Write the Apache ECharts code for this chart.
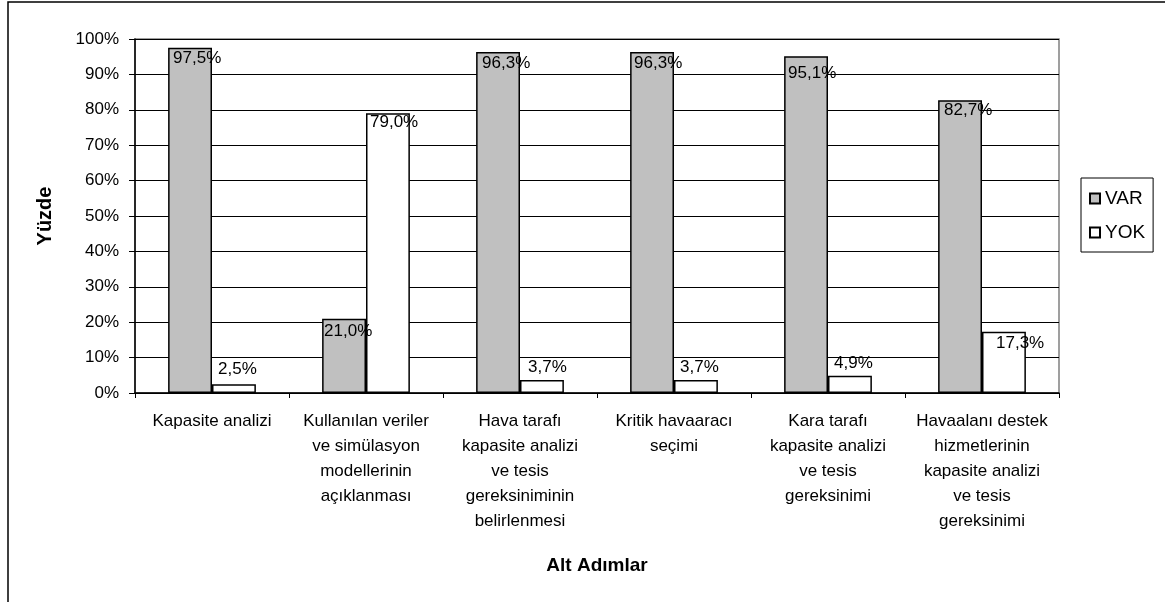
<!DOCTYPE html>
<html>
<head>
<meta charset="utf-8">
<script src="https://cdn.jsdelivr.net/npm/echarts@6/dist/echarts.min.js"></script>
<style>
html,body{margin:0;padding:0;background:#fff;}
#c{width:1165px;height:602px;}
</style>
</head>
<body>
<div id="c"></div>
<script>
const categories = [
  "Kapasite analizi",
  "Kullanılan veriler\nve simülasyon\nmodellerinin\naçıklanması",
  "Hava tarafı\nkapasite analizi\nve tesis\ngereksiniminin\nbelirlenmesi",
  "Kritik havaaracı\nseçimi",
  "Kara tarafı\nkapasite analizi\nve tesis\ngereksinimi",
  "Havaalanı destek\nhizmetlerinin\nkapasite analizi\nve tesis\ngereksinimi"
];
const seriesNames = ["VAR", "YOK"];
const varValues = [97.5, 21.0, 96.3, 96.3, 95.1, 82.7];
const yokValues = [2.5, 79.0, 3.7, 3.7, 4.9, 17.3];
const yTicks = [0, 10, 20, 30, 40, 50, 60, 70, 80, 90, 100];

// label placement offsets relative to each bar's top-left corner
const varLabelPos = [[5, 2], [2, 4], [6, 3], [4, 3], [4, 8], [6, 2]];
const yokLabelPos = [[6, -23], [4, 0], [8, -21], [6, -21], [6, -21], [14, 3]];

const FONT = "'Liberation Sans', Arial, sans-serif";
const fmt = v => v.toFixed(1).replace('.', ',') + '%';

function mkData(vals, pos) {
  return vals.map((v, i) => ({
    value: v,
    label: { position: pos[i] }
  }));
}

const labelStyle = {
  show: true,
  formatter: p => fmt(p.value),
  fontFamily: FONT,
  fontSize: 17,
  lineHeight: 17,
  color: '#000',
  align: 'left',
  verticalAlign: 'top'
};

const chart = echarts.init(document.getElementById('c'), null, {renderer: 'canvas'});
chart.setOption({
  animation: false,
  backgroundColor: '#fff',
  textStyle: { fontFamily: FONT },
  graphic: [{
    type: 'rect',
    shape: { x: 8, y: 2, width: 1300, height: 800 },
    style: { fill: 'none', stroke: '#000', lineWidth: 1.5 },
    silent: true, z: -1
  }],
  grid: {
    left: 135, right: 106, top: 39, bottom: 209,
    show: true, borderColor: '#808080', borderWidth: 1.5, backgroundColor: '#fff'
  },
  legend: {
    orient: 'vertical',
    left: 1081, top: 178,
    padding: [10, 8, 9, 8],
    borderColor: '#000', borderWidth: 1,
    itemWidth: 10, itemHeight: 10, itemGap: 13,
    icon: 'rect',
    textStyle: { fontFamily: FONT, fontSize: 19, lineHeight: 21, color: '#000' },
    data: seriesNames
  },
  xAxis: {
    type: 'category',
    data: categories,
    name: 'Alt Adımlar',
    nameLocation: 'middle',
    nameGap: 163,
    nameTextStyle: { fontFamily: FONT, fontSize: 19, fontWeight: 'bold', color: '#000' },
    axisLine: { lineStyle: { color: '#000', width: 1.5 } },
    axisTick: { show: true, length: 5, lineStyle: { color: '#000' } },
    axisLabel: {
      interval: 0, margin: 16, fontFamily: FONT, fontSize: 17, lineHeight: 25,
      color: '#000', align: 'center'
    }
  },
  yAxis: {
    type: 'value',
    min: 0, max: 100, interval: 10,
    name: 'Yüzde',
    nameLocation: 'middle',
    nameGap: 80,
    nameRotate: 90,
    nameTextStyle: { fontFamily: FONT, fontSize: 20, fontWeight: 'bold', color: '#000' },
    axisLine: { show: true, lineStyle: { color: '#000', width: 1.5 } },
    axisTick: { show: true, length: 6, lineStyle: { color: '#000' } },
    axisLabel: {
      margin: 16, fontFamily: FONT, fontSize: 17, color: '#000',
      formatter: v => yTicks.includes(v) ? v + '%' : ''
    },
    splitLine: { show: true, lineStyle: { color: '#000', width: 1 } }
  },
  series: [
    {
      name: seriesNames[0], type: 'bar',
      barGap: '0%', barCategoryGap: '43%',
      itemStyle: { color: '#c0c0c0', borderColor: '#000', borderWidth: 1.5 },
      label: labelStyle,
      data: mkData(varValues, varLabelPos),
      z: 3
    },
    {
      name: seriesNames[1], type: 'bar',
      barGap: '0%', barCategoryGap: '43%',
      itemStyle: { color: '#ffffff', borderColor: '#000', borderWidth: 1.5 },
      label: labelStyle,
      data: mkData(yokValues, yokLabelPos),
      z: 3
    }
  ]
});
</script>
</body>
</html>
